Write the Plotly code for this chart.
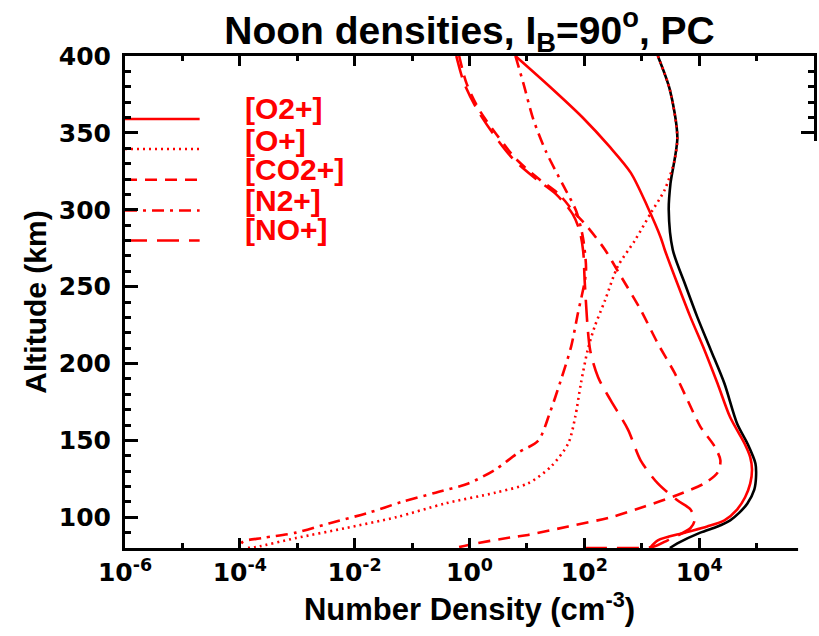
import numpy as np
import plotly.graph_objects as go

# ---- data (log10 number density in cm^-3 vs altitude km) ----
tot_alt = [400, 378, 347, 317, 300, 274, 252, 230, 209, 187, 161, 148, 135, 126, 118, 109, 103, 98, 94, 90, 83, 80]
tot_log = [3.28, 3.49, 3.62, 3.50, 3.47, 3.54, 3.75, 3.97, 4.20, 4.44, 4.66, 4.84, 4.98, 4.99, 4.96, 4.84, 4.70, 4.54, 4.32, 4.02, 3.62, 3.49]

o2p_alt = [400, 380, 360, 341, 324, 302, 282, 274, 252, 230, 209, 187, 165, 148, 139, 131, 122, 113, 105, 98, 94, 90, 85, 80]
o2p_log = [0.80, 1.40, 1.97, 2.44, 2.81, 3.10, 3.33, 3.40, 3.62, 3.85, 4.09, 4.32, 4.54, 4.79, 4.89, 4.92, 4.89, 4.80, 4.66, 4.44, 4.14, 3.75, 3.28, 3.14]

op_alt = [400, 378, 347, 332, 313, 298, 280, 263, 241, 224, 209, 187, 165, 148, 133, 122, 116, 109, 100, 93, 86.5, 80.7, 80]
op_log = [3.28, 3.49, 3.62, 3.57, 3.40, 3.16, 2.88, 2.58, 2.36, 2.18, 2.06, 1.94, 1.84, 1.72, 1.42, 1.02, 0.45, -0.42, -1.28, -2.15, -3.02, -3.71, -3.88]

co2p_alt = [400, 382, 365, 349, 333, 320, 310, 298, 290, 274, 259, 235, 213, 194, 176, 159, 146, 137, 129, 122, 114.5, 107, 100, 94, 88.5, 87, 82, 80]
co2p_log = [-0.18, -0.05, 0.17, 0.47, 0.81, 1.21, 1.56, 1.83, 2.03, 2.36, 2.60, 2.98, 3.28, 3.57, 3.80, 4.02, 4.27, 4.37, 4.32, 4.09, 3.62, 3.05, 2.46, 1.72, 1.02, 0.73, -0.02, -0.24]

n2p_alt = [400, 382, 359, 338, 316, 299, 281, 262, 254, 233, 211, 189, 168, 150, 142, 131, 122, 116, 110, 103, 96, 90, 86.5, 84, 80]
n2p_log = [0.80, 0.94, 1.11, 1.33, 1.63, 1.86, 1.98, 2.03, 2.01, 1.89, 1.77, 1.59, 1.40, 1.20, 0.85, 0.45, -0.02, -0.59, -1.18, -1.75, -2.45, -3.02, -3.61, -3.95, -4.01]

nop_alt = [400, 383, 366, 349, 333, 320, 310, 297, 286, 273, 251, 209, 191, 176, 157, 137, 122, 111, 105, 98, 93, 85, 80.7, 80, 80]
nop_log = [-0.23, -0.10, 0.12, 0.42, 0.76, 1.16, 1.51, 1.80, 1.92, 1.98, 2.01, 2.10, 2.24, 2.46, 2.76, 2.98, 3.28, 3.62, 3.85, 3.92, 3.85, 3.45, 3.19, 2.58, 2.03]

legend_names = ["[O2+]", "[O+]", "[CO2+]", "[N2+]", "[NO+]"]
legend_line_alt = [359, 339.5, 319.5, 299.5, 280]
legend_text_alt = [366, 345, 326, 306, 287]

xtick_exp = [-6, -4, -2, 0, 2, 4, 6]
xminor_exp = [-5, -3, -1, 1, 3, 5]
ytick_vals = [100, 150, 200, 250, 300, 350, 400]

RED = "#ff0000"
LW = 2.6
dashes = ["solid", "2px,4px", "12px,8px", "12px,6px,3px,6px", "22px,10px"]

fig = go.Figure()

series = [(o2p_log, o2p_alt), (op_log, op_alt), (co2p_log, co2p_alt), (n2p_log, n2p_alt), (nop_log, nop_alt)]

fig.add_trace(go.Scatter(x=10 ** np.array(tot_log), y=tot_alt, mode="lines",
                         line=dict(color="black", width=LW, shape="spline", smoothing=0.8),
                         showlegend=False, hoverinfo="skip"))
for (lg, al), d, nm in zip(series, dashes, legend_names):
    fig.add_trace(go.Scatter(x=10 ** np.array(lg), y=al, mode="lines", name=nm,
                             line=dict(color=RED, width=LW, dash=d, shape="spline", smoothing=0.8),
                             showlegend=False))

# custom legend (lines + labels)
for d, ya, yt, nm in zip(dashes, legend_line_alt, legend_text_alt, legend_names):
    fig.add_trace(go.Scatter(x=[1e-6, 10 ** -4.7], y=[ya, ya], mode="lines",
                             line=dict(color=RED, width=LW, dash=d), showlegend=False, hoverinfo="skip"))
    fig.add_annotation(x=-3.95, y=yt, xref="x", yref="y", text=nm, showarrow=False,
                       xanchor="left", yanchor="middle",
                       font=dict(family="Liberation Sans, Arial", size=30, color=RED, weight="bold"))

tickfont = dict(family="DejaVu Sans", size=25, color="black", weight="bold")

fig.update_xaxes(type="log", range=[-6, 6],
                 tickvals=[10.0 ** e for e in xtick_exp],
                 ticktext=["10<sup>%d</sup>" % e for e in xtick_exp],
                 ticks="inside", ticklen=10, tickwidth=3, tickcolor="black",
                 minor=dict(tickvals=[10.0 ** e for e in xminor_exp], ticks="inside", ticklen=5,
                            tickwidth=3, tickcolor="black", showgrid=False),
                 showline=True, linewidth=3, linecolor="black", mirror="ticks",
                 showgrid=False, zeroline=False, tickfont=tickfont,
                 title=dict(text="Number Density (cm<sup>-3</sup>)",
                            font=dict(family="Liberation Sans, Arial", size=31, color="black", weight="bold"),
                            standoff=6))
fig.update_yaxes(range=[80, 400], tickvals=ytick_vals,
                 ticks="inside", ticklen=13, tickwidth=3, tickcolor="black",
                 minor=dict(dtick=10, ticks="inside", ticklen=6, tickwidth=3, tickcolor="black", showgrid=False),
                 showline=True, linewidth=3, linecolor="black", mirror="ticks",
                 showgrid=False, zeroline=False, tickfont=tickfont, ticklabelstandoff=6,
                 title=dict(text="Altitude (km)",
                            font=dict(family="Liberation Sans, Arial", size=30, color="black", weight="bold"),
                            standoff=4))

# white strip covering the cut-off right side (neighbouring panel)
fig.add_shape(type="rect", xref="paper", yref="paper", x0=(801 - 125) / 692, x1=1.05,
              y0=-0.3, y1=(548 - 141) / 492, fillcolor="white", line=dict(width=0), layer="above")

fig.update_layout(
    width=819, height=636,
    margin=dict(l=125, r=2, t=56, b=88),
    paper_bgcolor="white", plot_bgcolor="white",
    title=dict(text="Noon densities, I<sub>B</sub>=90<sup>o</sup>, PC",
               x=0.5, xref="paper", xanchor="center",
               y=1 - 30 / 636, yref="container", yanchor="middle",
               font=dict(family="Liberation Sans, Arial", size=39, color="black", weight="bold")),
    showlegend=False,
)

fig.write_html("out.html")
